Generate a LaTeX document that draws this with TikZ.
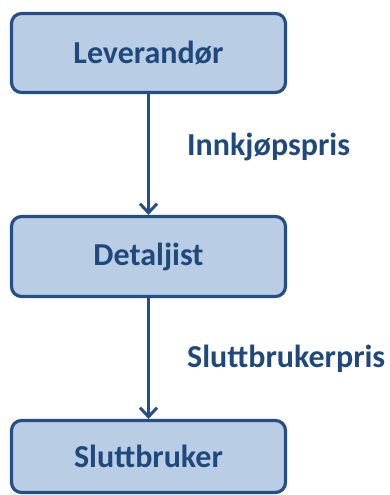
\documentclass[tikz,border=0pt]{standalone}
\usepackage{fontspec}
\setmainfont{Carlito}
\usetikzlibrary{arrows.meta}
\definecolor{boxfill}{HTML}{B9CDE5}
\definecolor{boxline}{HTML}{264E86}
\definecolor{txt}{HTML}{1F497D}
\tikzset{
  stepbox/.style={draw=boxline, fill=boxfill, line width=3.2pt, rounded corners=10pt,
    minimum width=274pt, inner sep=0pt, text=txt, font=\bfseries\fontsize{32}{38}\selectfont},
  conn/.style={draw=boxline, line width=3pt, -{Straight Barb[length=9pt,width=17pt,line width=3pt]}},
  lbl/.style={text=txt, font=\bfseries\fontsize{32}{38}\selectfont, inner sep=0pt, anchor=base west}
}
\begin{document}
\begin{tikzpicture}[x=1pt,y=-1pt]
\useasboundingbox (0,0) rectangle (390,495);
\node[stepbox, minimum height=79pt] (lev) at (148.5,53) {Leverandør};
\node[stepbox, minimum height=80pt] (det) at (148.5,256.5) {Detaljist};
\node[stepbox, minimum height=72pt] (slu) at (148.5,456.5) {Sluttbruker};
\draw[conn] (lev.south) -- (det.north);
\draw[conn] (det.south) -- (slu.north);
\node[lbl] (p1) at (187,155) {Innkjøpspris};
\node[lbl] (p2) at (187,367) {Sluttbrukerpris};
\end{tikzpicture}
\end{document}
